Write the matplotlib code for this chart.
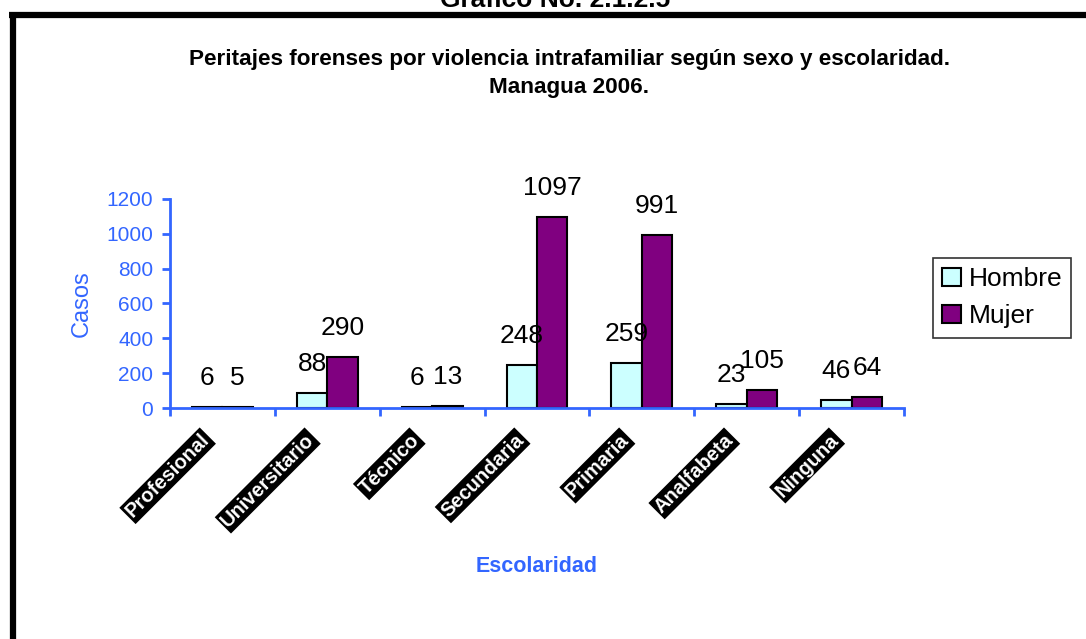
import numpy as np
import matplotlib
matplotlib.use('Agg')
import matplotlib.pyplot as plt
import matplotlib.transforms as mtransforms
from matplotlib.lines import Line2D

plt.rcParams['font.family'] = ['Liberation Sans', 'DejaVu Sans']

categories = ['Profesional', 'Universitario', 'Técnico', 'Secundaria', 'Primaria', 'Analfabeta', 'Ninguna']
hombre = [6, 88, 6, 248, 259, 23, 46]
mujer = [5, 290, 13, 1097, 991, 105, 64]
yticks = [0, 200, 400, 600, 800, 1000, 1200]

blue = '#3366ff'

fig = plt.figure(figsize=(10.86, 6.39), dpi=100)
ax = fig.add_axes([0.1565, 0.3615, 0.6759, 0.3271])

x = np.arange(len(categories))
w = 0.29
b1 = ax.bar(x - w/2, hombre, w, color='#ccffff', edgecolor='black', linewidth=1.5, label='Hombre')
b2 = ax.bar(x + w/2, mujer, w, color='#800080', edgecolor='black', linewidth=1.5, label='Mujer')

# value labels above each bar
for bars, vals in [(b1, hombre), (b2, mujer)]:
	for rect, v in zip(bars, vals):
		ax.annotate(str(v), (rect.get_x() + rect.get_width()/2, v), xytext=(0, 21),
			textcoords='offset points', ha='center', va='center', fontsize=19, color='black')

ax.set_xlim(-0.5, len(categories) - 0.5)
ax.set_ylim(0, 1200)
ax.set_yticks(yticks)
ax.set_xticks(np.arange(-0.5, len(categories), 1.0))
ax.set_xticklabels([])
ax.tick_params(axis='x', length=6, width=2, color=blue, direction='out')
ax.tick_params(axis='y', length=6, width=2, color=blue, labelcolor=blue, labelsize=15, direction='out', pad=6)

# category labels: white bold on black, rotated 45 degrees
offset = mtransforms.ScaledTranslation(-16/100, -29/100, fig.dpi_scale_trans)
for i, cat in enumerate(categories):
	ax.text(i, 0, cat, transform=ax.get_xaxis_transform() + offset, rotation=45,
		ha='right', va='center', rotation_mode='anchor', fontsize=14.5, fontweight='bold',
		color='white', bbox=dict(facecolor='black', edgecolor='none', pad=1.5))

for s in ['top', 'right']:
	ax.spines[s].set_visible(False)
for s in ['left', 'bottom']:
	ax.spines[s].set_color(blue)
	ax.spines[s].set_linewidth(2)

ax.set_ylabel('Casos', color=blue, fontsize=17, labelpad=10)
fig.text(537/1086, 1 - 567/639, 'Escolaridad', color=blue, fontsize=15.5, fontweight='bold', ha='center', va='center')

fig.text(0.524, 1 - 60/639, 'Peritajes forenses por violencia intrafamiliar según sexo y escolaridad.',
	fontsize=16.2, fontweight='bold', ha='center', va='center')
fig.text(0.524, 1 - 87/639, 'Managua 2006.', fontsize=16.2, fontweight='bold', ha='center', va='center')
fig.text(0.511, 1 - 7/639, 'Gráfico No. 2.1.2.5', fontsize=19, fontweight='bold', ha='center', va='baseline')

# page frame (thick black lines at top and left)
fig.add_artist(Line2D([9/1086, 1.0], [1 - 14.5/639, 1 - 14.5/639], color='black', linewidth=4.5,
	transform=fig.transFigure, solid_capstyle='butt'))
fig.add_artist(Line2D([13/1086, 13/1086], [1 - 12/639, 0], color='black', linewidth=4.5,
	transform=fig.transFigure, solid_capstyle='butt'))

leg = fig.legend(handles=[b1, b2], loc='upper left', bbox_to_anchor=(933/1086, 1 - 258/639),
	fontsize=19, frameon=True, fancybox=False, edgecolor='black', handlelength=0.7, handleheight=0.7,
	handletextpad=0.3, borderpad=0.35, labelspacing=0.5, borderaxespad=0)
leg.get_frame().set_linewidth(1.2)

fig.savefig('out.png', dpi=100)
